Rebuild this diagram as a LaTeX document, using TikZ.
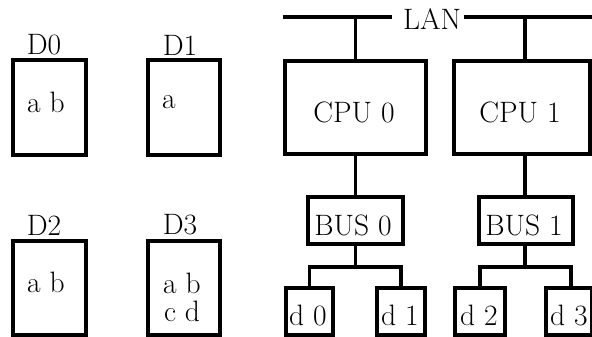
\documentclass[tikz,border=0pt]{standalone}
\begin{document}
\begin{tikzpicture}[x=1pt,y=-1pt,
  every node/.style={font=\fontsize{29.5}{33}\selectfont},
  box/.style={draw,line width=4pt,inner sep=0pt,outer sep=0pt},
  txt/.style={inner sep=0pt},
  wire/.style={line width=3.5pt,line cap=rect}]
\useasboundingbox (0,0) rectangle (592,337);
% disks
\node[box,minimum width=73,minimum height=95] (D0box) at (49.5,107.5) {};
\node[box,minimum width=72,minimum height=95] (D1box) at (184,107.5) {};
\node[box,minimum width=73,minimum height=94] (D2box) at (49.5,288) {};
\node[box,minimum width=72,minimum height=94] (D3box) at (184,288) {};
\node[txt] (D0) at (44,45) {D0};
\node[txt] (D1) at (180,45) {D1};
\node[txt] (D2) at (44,225) {D2};
\node[txt] (D3) at (180,225) {D3};
\node[txt] (t0) at (46,102) {a b};
\node[txt] (t1) at (169,102) {a};
\node[txt] (t2) at (46,282) {a b};
\node[txt,align=center] (t3) at (182,297) {a b\\[-5pt]c d};
% LAN
\node[txt] (LAN) at (432,19) {LAN};
\coordinate (lanA) at (285,17);
\coordinate (lanB) at (600,17);
\path ([xshift=-13pt]LAN.west) coordinate (lw);
\path ([xshift=5pt]LAN.east) coordinate (le);
\draw[wire] (lanA) -- (lanA -| lw);
\draw[wire] (lanB -| le) -- (lanB);
% CPUs
\node[box,minimum width=141,minimum height=93] (cpu0) at (355.5,107.5) {};
\node[txt] (cpu0t) at (354,112) {CPU 0};
\node[box,minimum width=136,minimum height=93] (cpu1) at (522,107.5) {};
\node[txt] (cpu1t) at (520,112) {CPU 1};
\draw[wire] (cpu0.north) -- (cpu0.north |- lanA);
\draw[wire] ([xshift=3pt]cpu1.north) -- ([xshift=3pt]cpu1.north |- lanA);
% buses
\node[box,minimum width=95,minimum height=47] (bus0) at (355.5,220.5) {};
\node[box,minimum width=94,minimum height=47] (bus1) at (526,220.5) {};
\node[txt] (bus0t) at (353,225) {BUS 0};
\node[txt] (bus1t) at (524,225) {BUS 1};
\draw[wire] (cpu0.south) -- (bus0.north);
\draw[wire] ([xshift=3pt]cpu1.south) -- ([xshift=-1pt]bus1.north);
% devices
\node[box,minimum width=47,minimum height=47] (d0) at (309.5,311.5) {};
\node[box,minimum width=48,minimum height=47] (d1) at (401,311.5) {};
\node[box,minimum width=50,minimum height=47] (d2) at (480,311.5) {};
\node[box,minimum width=46,minimum height=47] (d3) at (569,311.5) {};
\node[txt] (d0t) at (308,315) {d 0};
\node[txt] (d1t) at (400,315) {d 1};
\node[txt] (d2t) at (479,315) {d 2};
\node[txt] (d3t) at (569,315) {d 3};
\coordinate (j0) at (355.5,267);
\coordinate (j1) at (525,267);
\draw[wire] (bus0.south) -- (j0);
\draw[wire,line cap=butt] (d0.north) |- (j0) -| (d1.north);
\draw[wire] ([xshift=-1pt]bus1.south) -- (j1);
\draw[wire,line cap=butt] (d2.north) |- (j1) -| ([xshift=2pt]d3.north);
\end{tikzpicture}
\end{document}
